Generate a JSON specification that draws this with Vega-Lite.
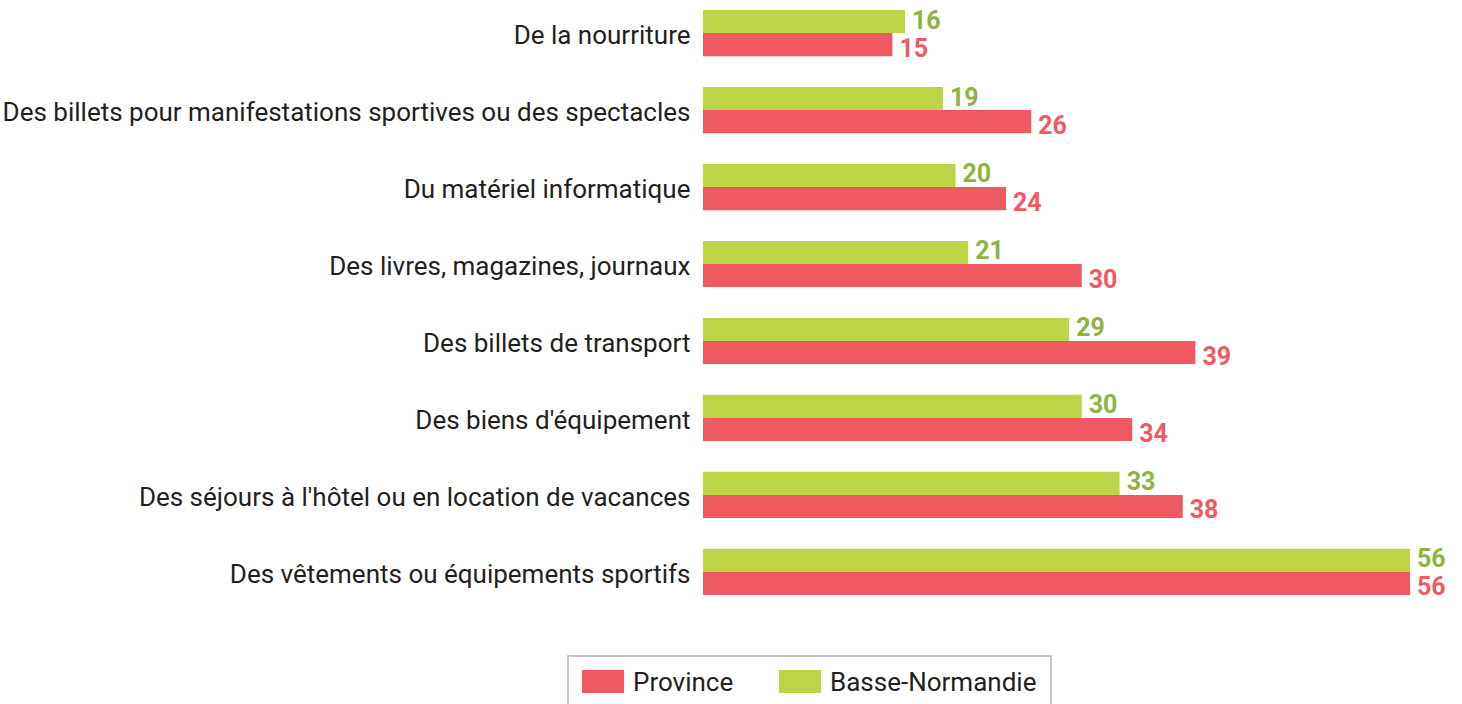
{
  "$schema": "https://vega.github.io/schema/vega-lite/v6.json",
  "width": 707,
  "height": 605,
  "autosize": {"type": "none"},
  "padding": {"left": 703, "top": 0, "right": 52, "bottom": 99},
  "background": "white",
  "config": {
    "view": {"stroke": null},
    "font": "Roboto",
    "legend": {"strokeWidth": 1.5}
  },
  "data": {
    "values": [
      {"cat": "De la nourriture", "serie": "Basse-Normandie", "v": 16},
      {"cat": "De la nourriture", "serie": "Province", "v": 15},
      {"cat": "Des billets pour manifestations sportives ou des spectacles", "serie": "Basse-Normandie", "v": 19},
      {"cat": "Des billets pour manifestations sportives ou des spectacles", "serie": "Province", "v": 26},
      {"cat": "Du matériel informatique", "serie": "Basse-Normandie", "v": 20},
      {"cat": "Du matériel informatique", "serie": "Province", "v": 24},
      {"cat": "Des livres, magazines, journaux", "serie": "Basse-Normandie", "v": 21},
      {"cat": "Des livres, magazines, journaux", "serie": "Province", "v": 30},
      {"cat": "Des billets de transport", "serie": "Basse-Normandie", "v": 29},
      {"cat": "Des billets de transport", "serie": "Province", "v": 39},
      {"cat": "Des biens d'équipement", "serie": "Basse-Normandie", "v": 30},
      {"cat": "Des biens d'équipement", "serie": "Province", "v": 34},
      {"cat": "Des séjours à l'hôtel ou en location de vacances", "serie": "Basse-Normandie", "v": 33},
      {"cat": "Des séjours à l'hôtel ou en location de vacances", "serie": "Province", "v": 38},
      {"cat": "Des vêtements ou équipements sportifs", "serie": "Basse-Normandie", "v": 56},
      {"cat": "Des vêtements ou équipements sportifs", "serie": "Province", "v": 56}
    ]
  },
  "encoding": {
    "y": {
      "field": "cat",
      "type": "nominal",
      "sort": null,
      "scale": {"paddingInner": 0.4, "paddingOuter": 0.13},
      "axis": {
        "title": null,
        "domain": false,
        "ticks": false,
        "labelFontSize": 26,
        "labelColor": "#231f20",
        "labelPadding": 13,
        "labelOffset": 3,
        "labelLimit": 700,
        "labelFont": "Roboto"
      }
    },
    "yOffset": {
      "field": "serie",
      "type": "nominal",
      "scale": {"domain": ["Basse-Normandie", "Province"], "paddingInner": 0, "paddingOuter": 0}
    },
    "x": {
      "field": "v",
      "type": "quantitative",
      "scale": {"domain": [0, 56], "nice": false, "zero": true},
      "axis": null
    }
  },
  "layer": [
    {
      "mark": {"type": "bar"},
      "encoding": {
        "color": {
          "field": "serie",
          "type": "nominal",
          "scale": {"domain": ["Province", "Basse-Normandie"], "range": ["#ef5a60", "#bdd545"]},
          "legend": {
            "title": null,
            "orient": "none",
            "legendX": -135,
            "legendY": 656,
            "direction": "horizontal",
            "columns": 2,
            "columnPadding": 45,
            "padding": 14,
            "strokeColor": "#b5b5b5",
            "fillColor": "white",
            "symbolType": "M-1,-1H1V0.1H-1Z",
            "symbolSize": 1764,
            "symbolStrokeWidth": 0,
            "symbolOpacity": 1,
            "labelFontSize": 26,
            "labelFont": "Roboto",
            "labelBaseline": "alphabetic",
            "labelColor": "#231f20",
            "labelOffset": 9,
            "labelLimit": 400
          }
        }
      }
    },
    {
      "transform": [{"filter": "datum.serie === 'Basse-Normandie'"}],
      "mark": {"type": "text", "align": "left", "baseline": "middle", "dx": 7, "dy": -1, "fontSize": 25, "fontWeight": "bold", "font": "Roboto", "fill": "#8db43c"},
      "encoding": {
        "text": {"field": "v", "type": "quantitative"}
      }
    },
    {
      "transform": [{"filter": "datum.serie === 'Province'"}],
      "mark": {"type": "text", "align": "left", "baseline": "middle", "dx": 7, "dy": 4, "fontSize": 25, "fontWeight": "bold", "font": "Roboto", "fill": "#ee5a62"},
      "encoding": {
        "text": {"field": "v", "type": "quantitative"}
      }
    }
  ]
}
